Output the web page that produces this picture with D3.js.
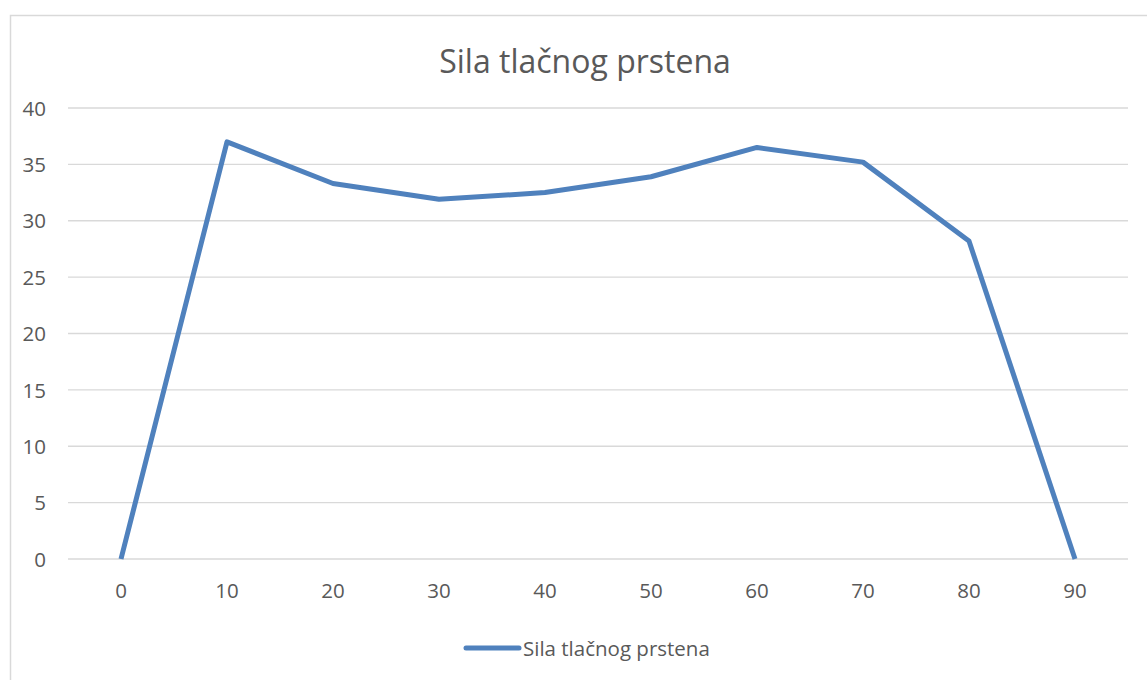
<!DOCTYPE html>
<html>
<head>
<meta charset="utf-8">
<script src="https://cdn.jsdelivr.net/npm/d3@7"></script>
<style>
html, body { margin: 0; padding: 0; background: #fff; }
svg { display: block; }
text { font-family: "Open Sans", "Liberation Sans", sans-serif; fill: #595959; }
</style>
</head>
<body>
<svg id="chart" width="1147" height="680"></svg>
<script>
const title = "Sila tlačnog prstena";
const seriesName = "Sila tlačnog prstena";
const categories = ["0", "10", "20", "30", "40", "50", "60", "70", "80", "90"];
const values = [0, 37.0, 33.3, 31.9, 32.5, 33.9, 36.5, 35.2, 28.2, 0];
const yTicks = [0, 5, 10, 15, 20, 25, 30, 35, 40];

const svg = d3.select("#chart");
const W = 1147, H = 680;
const plot = { left: 68, right: 1128, top: 108, bottom: 559 };
const lineColor = "#4f81bd";

// outer border
svg.append("rect")
  .attr("x", 10.5).attr("y", 15.5)
  .attr("width", W + 20).attr("height", H + 20)
  .attr("fill", "none").attr("stroke", "#d9d9d9").attr("stroke-width", 1.5);

const x = d3.scaleBand().domain(categories).range([plot.left, plot.right]);
const y = d3.scaleLinear().domain([0, 40]).range([plot.bottom, plot.top]);

// gridlines
svg.append("g")
  .selectAll("line")
  .data(yTicks)
  .join("line")
  .attr("x1", plot.left).attr("x2", plot.right)
  .attr("y1", d => y(d)).attr("y2", d => y(d))
  .attr("stroke", "#d9d9d9").attr("stroke-width", 1.3);

// y axis labels
const yAxis = d3.axisLeft(y).tickValues(yTicks).tickSize(0).tickPadding(0);
const yg = svg.append("g").attr("transform", `translate(46,0)`).call(yAxis);
yg.select(".domain").remove();
yg.selectAll("text").style("font-size", "20.5px").attr("fill", "#595959").attr("dy", "0.35em").attr("x", 0);

// x axis labels
const xAxis = d3.axisBottom(x).tickSize(0).tickPadding(0);
const xg = svg.append("g").attr("transform", `translate(0,${plot.bottom + 39})`).call(xAxis);
xg.select(".domain").remove();
xg.selectAll("text").style("font-size", "20.5px").attr("fill", "#595959").attr("dy", "0");

// line
const line = d3.line()
  .x((d, i) => x(categories[i]) + x.bandwidth() / 2)
  .y(d => y(d));
svg.append("path")
  .datum(values)
  .attr("d", line)
  .attr("fill", "none")
  .attr("stroke", lineColor)
  .attr("stroke-width", 5)
  .attr("stroke-linejoin", "round");

// title
svg.append("text")
  .attr("x", 585).attr("y", 73)
  .attr("text-anchor", "middle")
  .style("font-size", "32px")
  .text(title);

// legend
const lg = svg.append("g");
lg.append("line")
  .attr("x1", 466).attr("x2", 519)
  .attr("y1", 648).attr("y2", 648)
  .attr("stroke", lineColor).attr("stroke-width", 5).attr("stroke-linecap", "round");
lg.append("text")
  .attr("x", 523).attr("y", 656)
  .style("font-size", "20.5px")
  .text(seriesName);
</script>
</body>
</html>
